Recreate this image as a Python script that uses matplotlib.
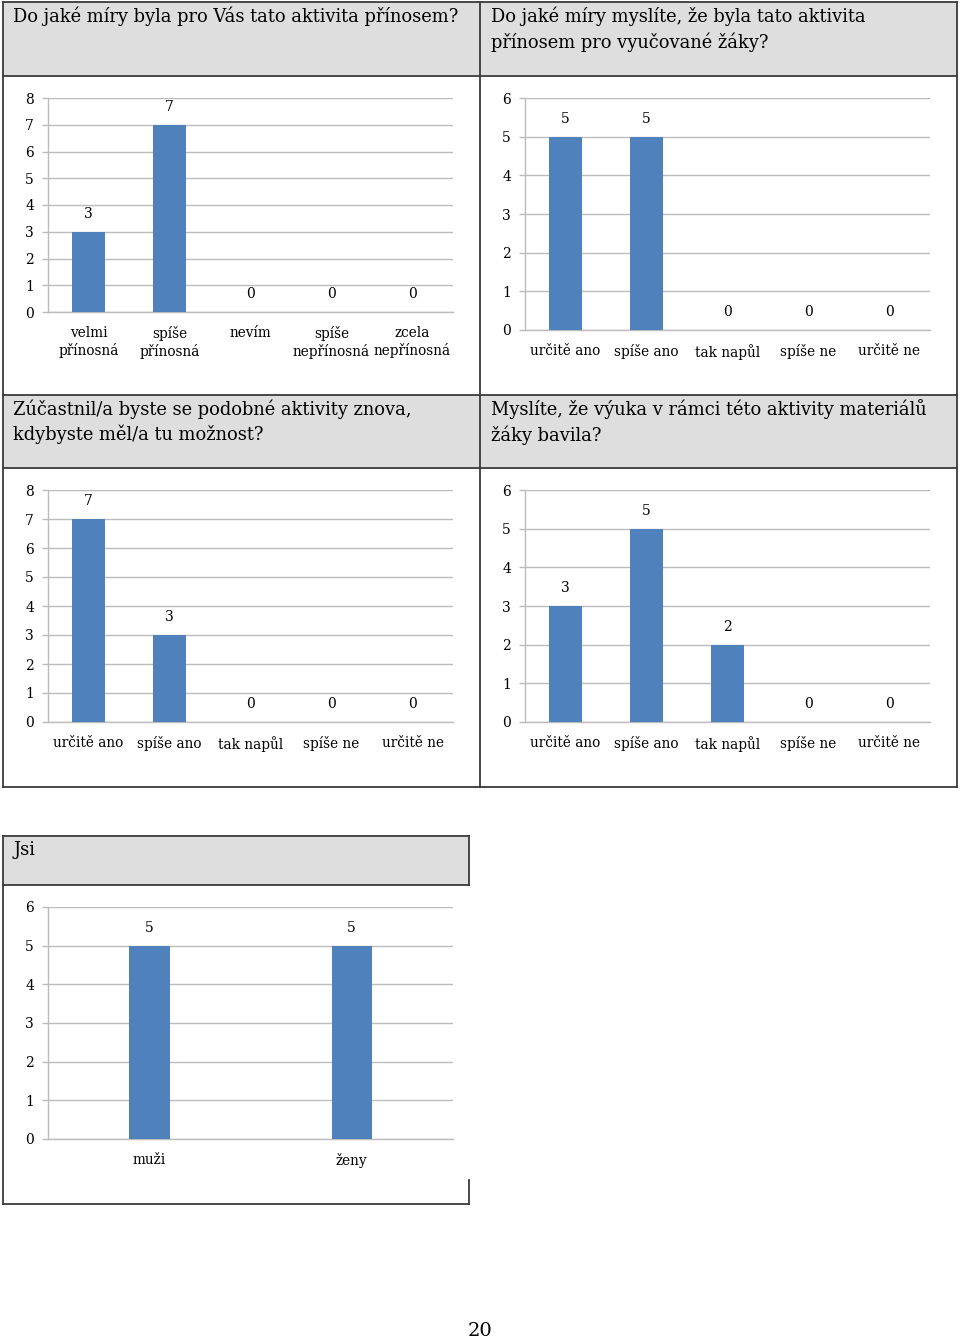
import matplotlib
matplotlib.use("Agg")
import matplotlib.pyplot as plt
from matplotlib.patches import Rectangle
from matplotlib.lines import Line2D

# ---------------- data ----------------
cats_a = ["velmi\npřínosná", "spíše\npřínosná", "nevím", "spíše\nnepřínosná", "zcela\nnepřínosná"]
vals_1 = [3, 7, 0, 0, 0]
cats_b = ["určitě ano", "spíše ano", "tak napůl", "spíše ne", "určitě ne"]
vals_2 = [5, 5, 0, 0, 0]
vals_3 = [7, 3, 0, 0, 0]
vals_4 = [3, 5, 2, 0, 0]
cats_c = ["muži", "ženy"]
vals_5 = [5, 5]

title_1 = "Do jaké míry byla pro Vás tato aktivita přínosem?"
title_2 = "Do jaké míry myslíte, že byla tato aktivita\npřínosem pro vyučované žáky?"
title_3 = "Zúčastnil/a byste se podobné aktivity znova,\nkdybyste měl/a tu možnost?"
title_4 = "Myslíte, že výuka v rámci této aktivity materiálů\nžáky bavila?"
title_5 = "Jsi"
page_no = "20"

# ---------------- style ----------------
W, H = 960, 1340
FONT = "DejaVu Serif"
plt.rcParams["font.family"] = [FONT]
BAR = "#4f81bd"
GRID = "#bcbcbc"
BORDER = "#3a3a3a"
HEAD = "#dedede"

fig = plt.figure(figsize=(W / 100, H / 100), dpi=100)
fig.patch.set_facecolor("white")


def fx(x):
    return x / W


def fy(y):
    return 1 - y / H


def rect(x0, y0, x1, y1, color):
    fig.patches.append(Rectangle((fx(x0), fy(y1)), fx(x1) - fx(x0), fy(y0) - fy(y1),
                                 transform=fig.transFigure, facecolor=color,
                                 edgecolor="none", zorder=0))


def line(x0, y0, x1, y1):
    fig.lines.append(Line2D([fx(x0), fx(x1)], [fy(y0), fy(y1)], transform=fig.transFigure,
                            color=BORDER, lw=1.3, zorder=1))


def header(x, y, text):
    fig.text(fx(x), fy(y), text, ha="left", va="top", fontsize=12.9,
             linespacing=1.4, color="black")


# --- table 1 ---
rect(3, 2, 480, 76, HEAD)
rect(480, 2, 957, 76, HEAD)
rect(3, 395, 480, 468, HEAD)
rect(480, 395, 957, 468, HEAD)
for yy in (2, 76, 395, 468, 787):
    line(3, yy, 957, yy)
for xx in (3, 480, 957):
    line(xx, 2, xx, 787)
header(13, 7, title_1)
header(491, 7, title_2)
header(13, 399, title_3)
header(491, 399, title_4)

# --- table 2 ---
rect(3, 836, 469, 885, HEAD)
line(3, 836, 469, 836)
line(3, 885, 469, 885)
line(3, 1204, 469, 1204)
line(3, 836, 3, 1204)
line(469, 836, 469, 885)
line(469, 1180, 469, 1204)
header(13, 841, title_5)

fig.text(fx(480), fy(1331), page_no, ha="center", va="center", fontsize=14)


def chart(left, top, right, bottom, cats, vals, ymax, width):
    ax = fig.add_axes([fx(left), fy(bottom), fx(right) - fx(left), fy(top) - fy(bottom)])
    x = list(range(len(cats)))
    ax.bar(x, vals, width=width, color=BAR, zorder=3)
    ax.set_xlim(-0.5, len(cats) - 0.5)
    ax.set_ylim(0, ymax)
    ax.set_yticks(range(0, ymax + 1))
    ax.set_xticks(x)
    ax.set_xticklabels(cats, fontsize=9.8, linespacing=1.25)
    ax.tick_params(axis="x", length=0, pad=10)
    ax.tick_params(axis="y", length=4, width=1, color=GRID, pad=6, labelsize=10)
    ax.yaxis.grid(True, color=GRID, lw=1, zorder=0)
    ax.set_axisbelow(True)
    for s in ("top", "right"):
        ax.spines[s].set_visible(False)
    for s in ("left", "bottom"):
        ax.spines[s].set_color(GRID)
        ax.spines[s].set_linewidth(1)
    for xi, v in zip(x, vals):
        ax.annotate(str(v), (xi, v), xytext=(0, 18), textcoords="offset pixels",
                    ha="center", va="center", fontsize=10)
    return ax


chart(48, 98, 453, 312, cats_a, vals_1, 8, 0.4)
chart(525, 98, 930, 330, cats_b, vals_2, 6, 0.4)
chart(48, 490, 453, 722, cats_b, vals_3, 8, 0.4)
chart(525, 490, 930, 722, cats_b, vals_4, 6, 0.4)
chart(48, 907, 453, 1139, cats_c, vals_5, 6, 0.2)

fig.savefig("out.png", dpi=100, facecolor="white")
